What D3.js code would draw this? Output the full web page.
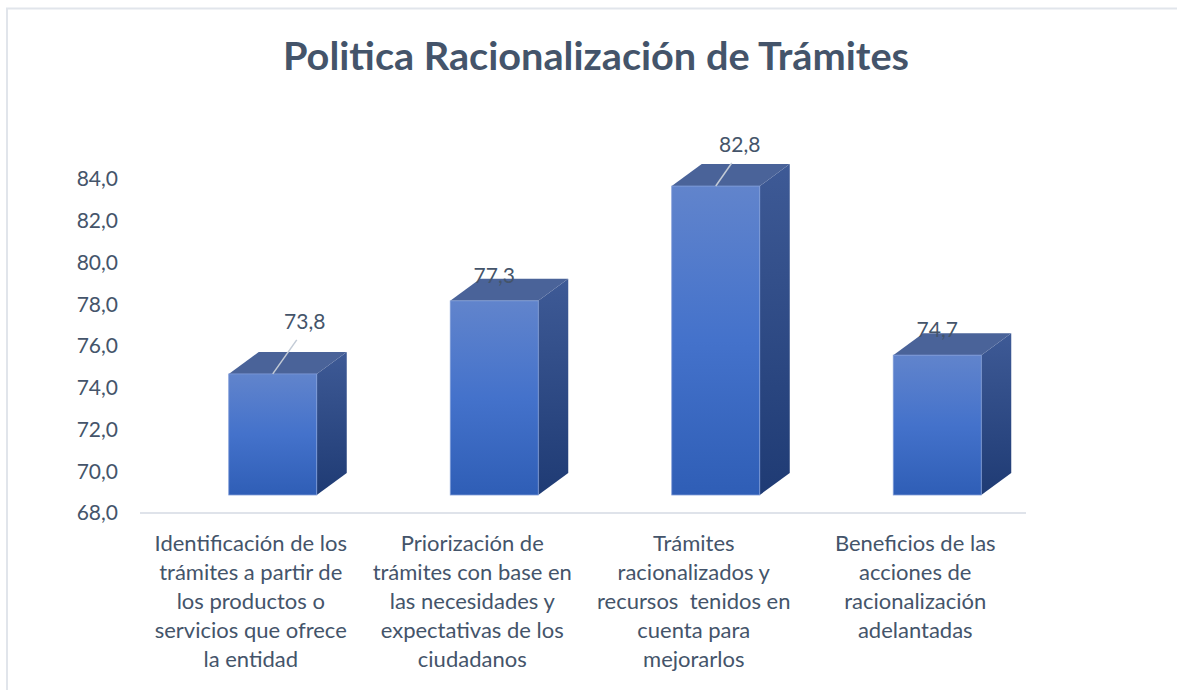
<!DOCTYPE html>
<html>
    <head>
        <meta charset="UTF-8">
        <script src="https://d3js.org/d3.v7.min.js"></script>
        <style>
            body { margin: 0; background: #fff; }
            text { font-family: Lato, "Open Sans", sans-serif; fill: #44546a; }
        </style>
    </head>

    <body>

        <svg id="canvas"></svg>

        <script>

            width = 1177;
            height = 690;

            title = "Politica Racionalización de Trámites";

            categories = [
                ["Identificación de los", "trámites a partir de", "los productos o", "servicios que ofrece", "la entidad"],
                ["Priorización de", "trámites con base en", "las necesidades y", "expectativas de los", "ciudadanos"],
                ["Trámites", "racionalizados y", "recursos  tenidos en", "cuenta para", "mejorarlos"],
                ["Beneficios de las", "acciones de", "racionalización", "adelantadas"]
            ];
            values = [73.8, 77.3, 82.8, 74.7];
            yTicks = [68, 70, 72, 74, 76, 78, 80, 82, 84];

            // 3d look: offset of the front plane and depth of the boxes
            frontShift = {x: 22, y: -18};
            depth = {x: 30, y: -22};

            canvas = d3.select("#canvas")
                .attr("width", width)
                .attr("height", height);

            // chart frame
            canvas.append("path")
                .attr("d", "M7,690 V8.5 H1177")
                .attr("style", "fill:none; stroke:#e1e5eb; stroke-width:2;");

            canvas.append("text")
                .attr("x", 596)
                .attr("y", 70)
                .attr("text-anchor", "middle")
                .attr("style", "font-size:39px; font-weight:bold;")
                .attr("textLength", 626)
                .attr("lengthAdjust", "spacingAndGlyphs")
                .text(title);

            x = d3.scaleBand()
                .domain(d3.range(categories.length))
                .range([140, 1026])
                .paddingInner(0)
                .paddingOuter(0);

            y = d3.scaleLinear()
                .domain([68, 84])
                .range([513, 179]);

            // y tick labels
            canvas.append("g")
                .selectAll("text")
                .data(yTicks).enter()
                    .append("text")
                        .attr("x", 118)
                        .attr("y", d => y(d))
                        .attr("dy", "0.35em")
                        .attr("text-anchor", "end")
                        .attr("style", "font-size:21px;")
                        .text(d => d.toFixed(1).replace(".", ","));

            // baseline
            canvas.append("line")
                .attr("x1", x.range()[0])
                .attr("x2", x.range()[1])
                .attr("y1", y(68))
                .attr("y2", y(68))
                .attr("style", "stroke:#dfe3ea; stroke-width:2;");

            defs = canvas.append("defs");
            front = defs.append("linearGradient").attr("id", "gFront")
                .attr("x1", 0).attr("y1", 0).attr("x2", 0).attr("y2", 1);
            front.append("stop").attr("offset", "0%").attr("stop-color", "#6184cc");
            front.append("stop").attr("offset", "50%").attr("stop-color", "#4472cb");
            front.append("stop").attr("offset", "100%").attr("stop-color", "#2f5eb6");
            side = defs.append("linearGradient").attr("id", "gSide")
                .attr("x1", 0).attr("y1", 0).attr("x2", 0).attr("y2", 1);
            side.append("stop").attr("offset", "0%").attr("stop-color", "#3e5a96");
            side.append("stop").attr("offset", "100%").attr("stop-color", "#1f3b74");

            barW = 88;
            bars = canvas.append("g")
                .selectAll("g")
                .data(values).enter()
                    .append("g");

            bx = (d, i) => x(i) + x.bandwidth() / 2 + frontShift.x - barW / 2;
            by0 = y(68) + frontShift.y;
            by = d => y(d) + frontShift.y;

            // side face
            bars.append("path")
                .attr("d", (d, i) => {
                    xr = bx(d, i) + barW;
                    return "M" + xr + "," + by(d) + " L" + (xr + depth.x) + "," + (by(d) + depth.y) +
                        " L" + (xr + depth.x) + "," + (by0 + depth.y) + " L" + xr + "," + by0 + "Z";
                })
                .attr("fill", "url(#gSide)");

            // top face
            bars.append("path")
                .attr("d", (d, i) => {
                    xl = bx(d, i);
                    return "M" + xl + "," + by(d) + " L" + (xl + depth.x) + "," + (by(d) + depth.y) +
                        " L" + (xl + barW + depth.x) + "," + (by(d) + depth.y) + " L" + (xl + barW) + "," + by(d) + "Z";
                })
                .attr("fill", "#4a6399");

            // front face
            bars.append("rect")
                .attr("x", (d, i) => bx(d, i))
                .attr("y", d => by(d))
                .attr("width", barW)
                .attr("height", d => by0 - by(d))
                .attr("fill", "url(#gFront)")
                .attr("style", "stroke:#7f9bd8; stroke-width:0.8;");

            // data labels: first and third sit above with a leader line
            labelPos = [
                {dx: 32, dy: -52, leader: true},
                {dx: 0, dy: -25, leader: false},
                {dx: 24, dy: -41, leader: true},
                {dx: 0, dy: -25, leader: false}
            ];

            bars.filter((d, i) => labelPos[i].leader)
                .append("line")
                    .attr("x1", d => bx(d, values.indexOf(d)) + barW / 2)
                    .attr("y1", d => by(d))
                    .attr("x2", d => bx(d, values.indexOf(d)) + barW / 2 + labelPos[values.indexOf(d)].dx - 8)
                    .attr("y2", d => by(d) + labelPos[values.indexOf(d)].dy + 18)
                    .attr("style", "stroke:#c3cbd6; stroke-width:1.5;");

            bars.append("text")
                .attr("x", (d, i) => bx(d, i) + barW / 2 + labelPos[i].dx)
                .attr("y", (d, i) => by(d) + labelPos[i].dy)
                .attr("dy", "0.35em")
                .attr("text-anchor", "middle")
                .attr("style", "font-size:21px;")
                .text(d => d.toFixed(1).replace(".", ","));

            // category labels
            catG = canvas.append("g")
                .selectAll("text")
                .data(categories).enter()
                    .append("text")
                        .attr("text-anchor", "middle")
                        .attr("style", "font-size:22px;");

            catG.selectAll("tspan")
                .data((d, i) => d.map(t => ({t: t, i: i})))
                .enter()
                    .append("tspan")
                        .attr("x", d => x(d.i) + x.bandwidth() / 2)
                        .attr("y", (d, j) => 543 + j * 29)
                        .attr("dy", "0.35em")
                        .attr("xml:space", "preserve")
                        .text(d => d.t);

        </script>

    </body>

</html>
